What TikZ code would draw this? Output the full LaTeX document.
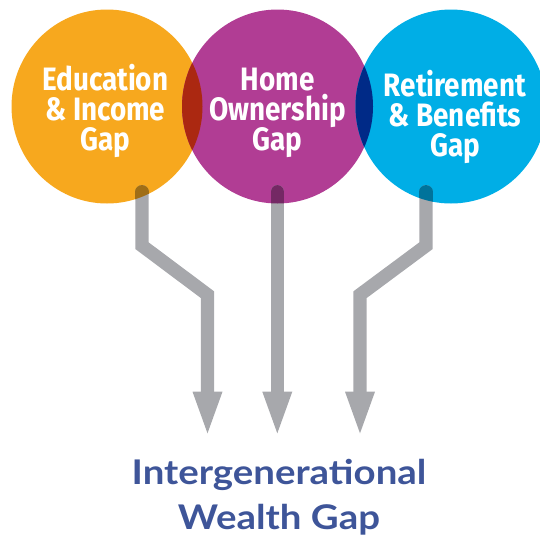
\documentclass[tikz,border=0pt]{standalone}
\usepackage{fontspec}
\newfontfamily\circfont[FakeStretch=0.86]{Fira Sans}
\newfontfamily\latofont[FakeStretch=1.13]{Lato}
\definecolor{corange}{HTML}{F7A81E}
\definecolor{cpurple}{HTML}{B13D94}
\definecolor{cblue}{HTML}{00AEE6}
\definecolor{lensred}{HTML}{AB2811}
\definecolor{lensnavy}{HTML}{002A87}
\definecolor{agray}{HTML}{A7A8AC}
\definecolor{aorange}{HTML}{A06E16}
\definecolor{apurple}{HTML}{742864}
\definecolor{ablue}{HTML}{00739B}
\definecolor{ctext}{HTML}{3E5599}
\tikzset{
  shaft/.style={line width=13.3pt, line cap=round, line join=miter},
  headtri/.style={fill=agray},
  circtext/.style={text=white, anchor=base, inner sep=0pt, font=\circfont\bfseries\fontsize{32.4}{30}\selectfont},
  bottext/.style={text=ctext, anchor=base, inner sep=0pt, font=\latofont\bfseries\fontsize{34}{45}\selectfont},
}
\begin{document}
\begin{tikzpicture}[x=1pt,y=-1pt]
\useasboundingbox (0,0) rectangle (540,536);
% circles
\def\orangepath{(107,106.5) ellipse [x radius=95.5, y radius=97]}
\def\purplepath{(277.5,106.5) ellipse [x radius=95.5, y radius=97]}
\def\bluepath{(451,106.5) ellipse [x radius=95.5, y radius=97]}
\fill[corange] \orangepath;
\fill[cpurple] \purplepath;
\fill[cblue] \bluepath;
\begin{scope}\clip \orangepath; \fill[lensred] \purplepath; \end{scope}
\begin{scope}\clip \bluepath; \fill[lensnavy] \purplepath; \end{scope}
\node[inner sep=0pt] (edu) at (107,106.5) {};
\node[inner sep=0pt] (home) at (277.5,106.5) {};
\node[inner sep=0pt] (ret) at (451,106.5) {};
% arrow coordinates
\coordinate (a1s) at (142,191.7);
\coordinate (a1b) at (142,245.7);
\coordinate (a1c) at (207.5,294.7);
\coordinate (a1e) at (207.5,391.7);
\coordinate (a2s) at (277.3,191.7);
\coordinate (a2e) at (277.3,391.7);
\coordinate (a3s) at (426,191.7);
\coordinate (a3b) at (426,245.7);
\coordinate (a3c) at (360,294.7);
\coordinate (a3e) at (360,391.7);
% shafts
\draw[shaft, agray] (a1s) -- (a1b) -- (a1c) -- (a1e);
\draw[shaft, agray] (a2s) -- (a2e);
\draw[shaft, agray] (a3s) -- (a3b) -- (a3c) -- (a3e);
% heads
\fill[headtri] ([xshift=-15pt]a1e) -- ([xshift=15pt]a1e) -- ([yshift=-41.6pt]a1e) -- cycle;
\fill[headtri] ([xshift=-15pt]a2e) -- ([xshift=15pt]a2e) -- ([yshift=-41.6pt]a2e) -- cycle;
\fill[headtri] ([xshift=-15pt]a3e) -- ([xshift=15pt]a3e) -- ([yshift=-41.6pt]a3e) -- cycle;
% darker overlaps
\begin{scope}\clip \orangepath; \draw[shaft, aorange] (a1s) -- (a1b); \end{scope}
\begin{scope}\clip \purplepath; \draw[shaft, apurple] (a2s) -- (a2e); \end{scope}
\begin{scope}\clip \bluepath; \draw[shaft, ablue] (a3s) -- (a3b); \end{scope}
% circle texts
\node[circtext] (e1) at (105.3,90.7) {Education};
\node[circtext] (e2) at (105.3,120.7) {\&~Income};
\node[circtext] (e3) at (105.3,150) {Gap};
\node[circtext] (h1) at (277.5,90.7) {Home};
\node[circtext] (h2) at (277.5,120.7) {Ownership};
\node[circtext] (h3) at (277.5,150) {Gap};
\node[circtext] (r1) at (455,96.7) {Retirement};
\node[circtext] (r2) at (455,126.7) {\&~Benefits};
\node[circtext] (r3) at (455,156.7) {Gap};
% bottom text
\node[bottext] (w1) at (279,484.3) {Intergenerational};
\node[bottext] (w2) at (279,529.3) {Wealth Gap};
\end{tikzpicture}
\end{document}
